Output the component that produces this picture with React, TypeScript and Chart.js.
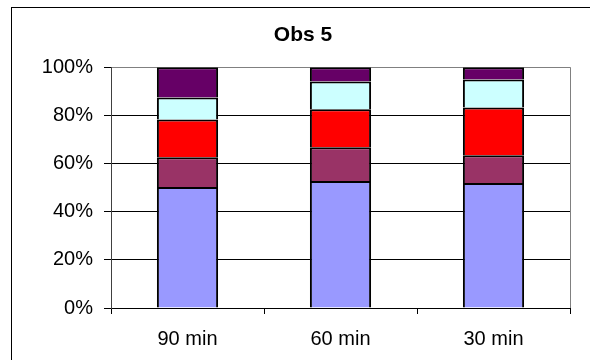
import React, { useEffect, useRef } from "react";
import { Chart, registerables } from "chart.js";

Chart.register(...registerables);

const categories = ["90 min", "60 min", "30 min"];
const series1 = [50.3, 52.7, 51.9];
const series2 = [12.3, 14.1, 11.5];
const series3 = [15.7, 15.7, 19.9];
const series4 = [9.1, 11.6, 11.6];
const series5 = [12.6, 5.9, 5.1];
const seriesNames = ["S1", "S2", "S3", "S4", "S5"];
const seriesColors = ["#9999FF", "#993366", "#FF0000", "#CCFFFF", "#660066"];
const yTicks = [0, 20, 40, 60, 80, 100];

const FONT = "'Liberation Sans', Arial, sans-serif";

const framePlugin = {
  id: "frame",
  beforeDraw(chart: any) {
    const ctx = chart.ctx;
    ctx.save();
    ctx.fillStyle = "#ffffff";
    ctx.fillRect(0, 0, chart.width, chart.height);
    ctx.strokeStyle = "#000000";
    ctx.lineWidth = 1;
    ctx.strokeRect(11.5, 7.5, 582, 370);
    ctx.restore();
  },
  afterDatasetsDraw(chart: any) {
    const { ctx, chartArea } = chart;
    ctx.save();
    ctx.strokeStyle = "#808080";
    ctx.lineWidth = 1;
    ctx.beginPath();
    ctx.moveTo(Math.round(chartArea.right) + 0.5, chartArea.top);
    ctx.lineTo(Math.round(chartArea.right) + 0.5, chartArea.bottom);
    ctx.stroke();
    ctx.restore();
  },
};

export default function App() {
  const ref = useRef<HTMLCanvasElement | null>(null);
  useEffect(() => {
    if (!ref.current) return;
    const values = [series1, series2, series3, series4, series5];
    const chart = new Chart(ref.current, {
      type: "bar",
      data: {
        labels: categories,
        datasets: values.map((v, i) => ({
          label: seriesNames[i],
          data: v,
          backgroundColor: seriesColors[i],
          borderColor: "#000000",
          borderWidth: 2,
          categoryPercentage: 1,
          barPercentage: 0.4,
        })),
      },
      options: {
        animation: false,
        responsive: false,
        maintainAspectRatio: false,
        layout: { padding: { left: 36, right: 20, top: 0, bottom: 0 } },
        plugins: {
          legend: { display: false },
          tooltip: { enabled: false },
          title: {
            display: true,
            text: "Obs 5",
            color: "#000000",
            font: { family: FONT, size: 21, weight: "bold" },
            padding: { top: 23, bottom: 19 },
          },
        },
        scales: {
          x: {
            stacked: true,
            grid: {
              offset: true,
              drawOnChartArea: false,
              drawTicks: true,
              tickLength: 6,
              color: "#000000",
              tickColor: "#000000",
            },
            border: { display: true, color: "#000000", width: 1 },
            ticks: {
              color: "#000000",
              font: { family: FONT, size: 20 },
              padding: 13,
              maxRotation: 0,
            },
            afterFit(scale: any) {
              scale.height = 52;
            },
          },
          y: {
            stacked: true,
            min: 0,
            max: 100,
            afterBuildTicks(scale: any) {
              scale.ticks = yTicks.map((v) => ({ value: v }));
            },
            grid: {
              color: (c: any) => (c.tick && c.tick.value === 100 ? "#808080" : "#000000"),
              tickColor: "#000000",
              drawTicks: true,
              tickLength: 7,
            },
            border: { display: true, color: "#404040", width: 1 },
            ticks: {
              color: "#000000",
              font: { family: FONT, size: 20 },
              padding: 11,
              callback: (v: any) => v + "%",
            },
            afterFit(scale: any) {
              scale.width = 75;
            },
          },
        },
      },
      plugins: [framePlugin],
    });
    return () => chart.destroy();
  }, []);
  return (
    <div style={{ position: "fixed", left: 0, top: 0, width: 590, height: 360 }}>
      <canvas ref={ref} width={590} height={360} style={{ width: 590, height: 360 }} />
    </div>
  );
}
